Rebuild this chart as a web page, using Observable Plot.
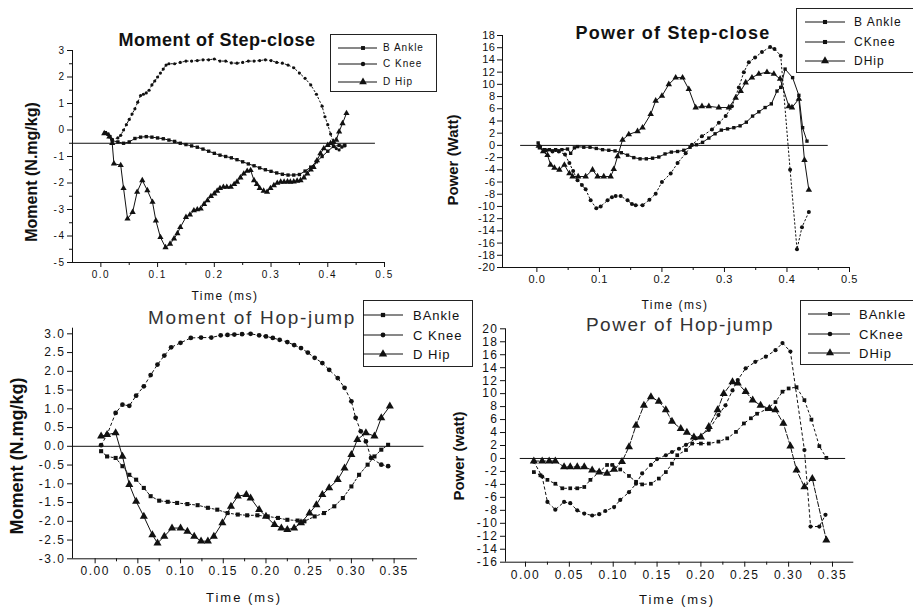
<!DOCTYPE html>
<html><head><meta charset="utf-8">
<script src="https://cdn.jsdelivr.net/npm/d3@7"></script>
<script src="https://cdn.jsdelivr.net/npm/@observablehq/plot@0.6"></script>
<style>
body{margin:0;background:#fff;}
#wrap{position:relative;width:913px;height:607px;overflow:hidden;font-family:"Liberation Sans",Arial,sans-serif;color:#111;background:#fff;}
.t{position:absolute;white-space:nowrap;transform:translate(-50%,-50%);line-height:1;}
.leg{position:absolute;border:1px solid #222;background:#fff;box-sizing:border-box;}
.leg span{position:absolute;white-space:nowrap;transform:translateY(-50%);line-height:1;}
svg.panel{position:absolute;overflow:visible;}
</style></head><body><div id="wrap"></div>
<script>
// ---------------- DATA ----------------
const seriesNames = ["B Ankle", "C Knee", "D Hip"];

// Moment of Step-close  [time, moment]
const stepMomentAnkle = [[0.008,-0.1],[0.012,-0.15],[0.016,-0.25],[0.02,-0.4],[0.03,-0.45],[0.04,-0.5],[0.05,-0.45],[0.06,-0.32],[0.07,-0.27],[0.08,-0.25],[0.09,-0.27],[0.10,-0.3],[0.11,-0.33],[0.12,-0.38],[0.13,-0.43],[0.14,-0.5],[0.15,-0.55],[0.16,-0.6],[0.17,-0.65],[0.18,-0.72],[0.19,-0.8],[0.20,-0.88],[0.21,-0.95],[0.22,-1.0],[0.23,-1.05],[0.24,-1.12],[0.25,-1.2],[0.26,-1.28],[0.27,-1.35],[0.28,-1.43],[0.29,-1.5],[0.30,-1.56],[0.31,-1.62],[0.32,-1.67],[0.33,-1.7],[0.34,-1.7],[0.35,-1.68],[0.36,-1.55],[0.37,-1.4],[0.38,-1.2],[0.39,-1.0],[0.40,-0.8],[0.41,-0.62],[0.42,-0.58],[0.43,-0.57]];
const stepMomentKnee = [[0.02,-0.35],[0.03,-0.3],[0.035,-0.2],[0.04,0.0],[0.045,0.2],[0.05,0.4],[0.055,0.6],[0.06,0.8],[0.065,1.05],[0.07,1.3],[0.075,1.35],[0.08,1.4],[0.085,1.5],[0.09,1.7],[0.095,1.85],[0.10,2.0],[0.105,2.15],[0.11,2.3],[0.115,2.45],[0.12,2.5],[0.13,2.5],[0.14,2.55],[0.15,2.6],[0.16,2.6],[0.17,2.62],[0.18,2.65],[0.19,2.65],[0.20,2.68],[0.21,2.6],[0.22,2.6],[0.23,2.53],[0.24,2.52],[0.25,2.55],[0.26,2.6],[0.27,2.6],[0.28,2.62],[0.29,2.65],[0.30,2.62],[0.31,2.55],[0.32,2.52],[0.33,2.45],[0.34,2.35],[0.35,2.15],[0.36,1.95],[0.37,1.7],[0.38,1.35],[0.39,0.9],[0.395,0.5],[0.40,0.2],[0.405,-0.15],[0.41,-0.5],[0.415,-0.7],[0.42,-0.75],[0.425,-0.65],[0.43,-0.6]];
const stepMomentHip = [[0.006,-0.13],[0.015,-0.25],[0.02,-0.5],[0.023,-1.27],[0.035,-1.33],[0.04,-2.2],[0.047,-3.35],[0.056,-3.1],[0.064,-2.34],[0.073,-1.9],[0.082,-2.28],[0.091,-2.72],[0.097,-3.42],[0.105,-4.05],[0.114,-4.43],[0.122,-4.3],[0.129,-4.1],[0.135,-3.9],[0.14,-3.67],[0.15,-3.29],[0.157,-3.2],[0.164,-3.04],[0.17,-3.0],[0.176,-2.97],[0.182,-2.8],[0.188,-2.66],[0.194,-2.5],[0.2,-2.4],[0.205,-2.3],[0.21,-2.2],[0.216,-2.15],[0.222,-2.15],[0.229,-2.15],[0.235,-2.05],[0.24,-1.96],[0.246,-1.8],[0.252,-1.65],[0.258,-1.55],[0.264,-1.52],[0.27,-1.9],[0.275,-2.05],[0.28,-2.2],[0.287,-2.3],[0.293,-2.34],[0.299,-2.2],[0.305,-2.09],[0.311,-2.0],[0.317,-1.96],[0.323,-1.96],[0.329,-1.95],[0.334,-1.96],[0.34,-1.95],[0.346,-1.92],[0.352,-1.9],[0.358,-1.8],[0.364,-1.65],[0.37,-1.5],[0.375,-1.4],[0.381,-1.15],[0.387,-0.89],[0.393,-0.7],[0.4,-0.57],[0.405,-0.5],[0.41,-0.45],[0.415,-0.38],[0.42,-0.06],[0.426,0.25],[0.433,0.63]];

// Power of Step-close  [time, power]
const stepPowerAnkle = [[0.002,0.4],[0.004,-0.4],[0.012,-0.7],[0.02,-0.7],[0.03,-0.7],[0.04,-0.7],[0.049,-0.6],[0.054,-1.3],[0.06,-0.4],[0.065,-0.2],[0.075,-0.3],[0.085,-0.3],[0.095,-0.5],[0.105,-0.7],[0.115,-0.8],[0.125,-0.9],[0.135,-1.2],[0.145,-1.6],[0.155,-2.0],[0.165,-2.2],[0.175,-2.2],[0.185,-2.1],[0.195,-1.9],[0.205,-1.4],[0.215,-1.1],[0.225,-1.0],[0.235,-0.8],[0.245,-0.3],[0.255,0.1],[0.265,0.5],[0.275,1.2],[0.285,1.9],[0.295,2.5],[0.305,2.7],[0.315,2.9],[0.325,3.2],[0.335,3.8],[0.345,4.8],[0.355,5.5],[0.365,6.2],[0.375,6.8],[0.384,8.9],[0.39,9.5],[0.397,12.5],[0.409,11.1],[0.419,8.2],[0.425,2.9],[0.432,0.7]];
const stepPowerKnee = [[0.005,-0.2],[0.015,-0.8],[0.025,-1.0],[0.035,-1.0],[0.045,-1.5],[0.052,-2.9],[0.058,-4.2],[0.065,-5.7],[0.072,-6.5],[0.078,-7.2],[0.086,-9.0],[0.095,-10.3],[0.102,-10.0],[0.113,-9.0],[0.12,-8.5],[0.126,-8.3],[0.134,-8.3],[0.145,-9.0],[0.152,-9.6],[0.158,-9.8],[0.169,-9.8],[0.18,-8.9],[0.19,-7.9],[0.2,-6.0],[0.214,-4.6],[0.225,-2.9],[0.238,-1.3],[0.248,0.1],[0.264,1.5],[0.28,2.6],[0.291,3.7],[0.302,4.8],[0.312,6.4],[0.323,9.5],[0.331,12.0],[0.339,13.6],[0.349,14.4],[0.36,15.3],[0.373,16.1],[0.38,15.8],[0.39,14.7],[0.405,-4.0],[0.416,-17.0],[0.424,-13.4],[0.435,-10.9]];
const stepPowerHip = [[0.003,-0.1],[0.01,-1.0],[0.017,-1.6],[0.022,-3.2],[0.028,-3.7],[0.036,-4.0],[0.044,-3.2],[0.052,-4.6],[0.057,-5.1],[0.066,-5.1],[0.078,-5.1],[0.089,-4.0],[0.097,-5.1],[0.107,-5.1],[0.118,-5.1],[0.123,-3.9],[0.129,-1.8],[0.137,0.9],[0.147,1.8],[0.161,2.3],[0.169,2.9],[0.182,5.1],[0.19,7.3],[0.2,8.1],[0.211,10.0],[0.222,11.1],[0.233,11.1],[0.243,9.2],[0.254,6.2],[0.264,6.4],[0.275,6.4],[0.291,6.2],[0.307,6.2],[0.318,7.8],[0.326,8.9],[0.334,10.3],[0.344,11.1],[0.355,11.7],[0.368,12.0],[0.379,11.7],[0.389,10.9],[0.403,6.4],[0.408,6.2],[0.419,7.6],[0.428,-2.4],[0.435,-7.3]];

// Moment of Hop-jump  [time, moment]
const hopMomentAnkle = [[0.007,-0.13],[0.014,-0.27],[0.024,-0.31],[0.032,-0.53],[0.04,-0.76],[0.048,-0.89],[0.057,-1.11],[0.065,-1.33],[0.075,-1.45],[0.085,-1.48],[0.096,-1.51],[0.108,-1.54],[0.12,-1.57],[0.132,-1.64],[0.143,-1.69],[0.155,-1.78],[0.167,-1.82],[0.178,-1.84],[0.19,-1.84],[0.202,-1.87],[0.214,-1.91],[0.225,-1.96],[0.237,-1.98],[0.245,-2.0],[0.257,-1.87],[0.268,-1.78],[0.28,-1.6],[0.29,-1.38],[0.3,-1.07],[0.309,-0.76],[0.319,-0.49],[0.327,-0.27],[0.335,-0.09],[0.343,0.04]];
const hopMomentKnee = [[0.007,0.03],[0.014,0.31],[0.024,0.89],[0.032,1.11],[0.04,1.08],[0.048,1.35],[0.057,1.6],[0.065,1.9],[0.073,2.18],[0.081,2.42],[0.089,2.64],[0.1,2.76],[0.112,2.89],[0.124,2.9],[0.136,2.9],[0.147,2.96],[0.155,2.97],[0.163,2.98],[0.172,2.99],[0.182,3.0],[0.192,2.96],[0.2,2.93],[0.208,2.89],[0.216,2.84],[0.225,2.78],[0.233,2.7],[0.241,2.62],[0.249,2.5],[0.257,2.36],[0.266,2.22],[0.274,2.04],[0.284,1.82],[0.292,1.56],[0.3,1.2],[0.305,0.76],[0.311,0.4],[0.317,0.13],[0.323,-0.31],[0.335,-0.49],[0.343,-0.53]];
const hopMomentHip = [[0.007,0.27],[0.014,0.31],[0.024,0.36],[0.032,-0.27],[0.04,-1.02],[0.048,-1.47],[0.057,-1.87],[0.067,-2.36],[0.073,-2.58],[0.081,-2.4],[0.09,-2.18],[0.1,-2.18],[0.108,-2.27],[0.116,-2.4],[0.124,-2.53],[0.132,-2.53],[0.139,-2.4],[0.149,-2.04],[0.159,-1.6],[0.167,-1.33],[0.177,-1.29],[0.182,-1.38],[0.192,-1.69],[0.2,-1.87],[0.21,-2.09],[0.218,-2.18],[0.225,-2.22],[0.233,-2.18],[0.241,-2.04],[0.251,-1.78],[0.259,-1.56],[0.266,-1.29],[0.274,-1.11],[0.284,-0.89],[0.292,-0.58],[0.3,-0.22],[0.307,0.18],[0.317,0.36],[0.327,0.27],[0.335,0.76],[0.345,1.07]];

// Power of Hop-jump  [time, power]
const hopPowerAnkle = [[0.0095,-2.1],[0.017,-2.6],[0.025,-3.3],[0.034,-3.9],[0.042,-4.6],[0.051,-4.6],[0.059,-4.6],[0.067,-4.4],[0.074,-3.3],[0.084,-2.1],[0.093,-1.0],[0.099,-1.0],[0.108,-1.7],[0.118,-2.7],[0.126,-3.6],[0.133,-4.0],[0.143,-3.9],[0.152,-3.1],[0.16,-2.1],[0.167,-0.8],[0.173,0.5],[0.183,1.3],[0.19,2.3],[0.2,2.3],[0.209,2.3],[0.22,2.6],[0.23,3.1],[0.24,4.1],[0.249,5.4],[0.257,6.2],[0.264,6.9],[0.275,7.6],[0.285,8.7],[0.293,10.3],[0.3,10.8],[0.309,11.0],[0.318,9.0],[0.326,6.0],[0.335,1.9],[0.343,0.1]];
const hopPowerKnee = [[0.0095,-0.5],[0.019,-2.8],[0.025,-6.7],[0.034,-7.9],[0.044,-6.7],[0.051,-6.9],[0.059,-8.0],[0.067,-8.5],[0.076,-8.8],[0.084,-8.6],[0.091,-8.1],[0.101,-7.5],[0.108,-6.4],[0.118,-5.2],[0.126,-3.9],[0.133,-2.3],[0.143,-1.0],[0.15,-0.1],[0.16,0.5],[0.167,1.0],[0.175,1.5],[0.183,2.1],[0.194,3.1],[0.209,4.4],[0.22,6.7],[0.228,8.2],[0.236,10.5],[0.242,12.1],[0.251,13.9],[0.262,14.9],[0.274,15.7],[0.285,16.7],[0.293,17.8],[0.302,16.5],[0.318,1.3],[0.325,-10.5],[0.335,-10.5],[0.342,-8.7]];
const hopPowerHip = [[0.0095,-0.4],[0.019,-0.4],[0.027,-0.4],[0.034,-0.4],[0.044,-1.3],[0.051,-1.3],[0.059,-1.3],[0.067,-1.3],[0.076,-1.8],[0.084,-2.1],[0.093,-2.3],[0.101,-1.7],[0.11,-0.5],[0.118,1.8],[0.126,5.1],[0.135,8.2],[0.143,9.5],[0.152,8.8],[0.16,7.5],[0.167,5.7],[0.177,4.6],[0.184,4.0],[0.192,3.3],[0.2,3.3],[0.209,4.9],[0.219,7.5],[0.226,10.0],[0.236,11.8],[0.242,11.6],[0.251,10.3],[0.259,9.0],[0.268,8.2],[0.278,7.7],[0.285,7.5],[0.294,5.4],[0.302,1.9],[0.309,-1.8],[0.318,-4.4],[0.327,-3.1],[0.343,-12.6]];

// axes: domains, ticks, reference lines
const stepMomentX = [-0.05, 0.5], stepMomentY = [-5, 3];
const stepMomentTicksX = [0, 0.1, 0.2, 0.3, 0.4, 0.5];
const stepMomentTicksY = [-5, -4, -3, -2, -1, 0, 1, 2, 3];
const stepMomentRef = [{y: -0.5, x1: -0.05, x2: 0.484}];

const stepPowerX = [-0.055, 0.5], stepPowerY = [-20, 18];
const stepPowerTicksX = [0, 0.1, 0.2, 0.3, 0.4, 0.5];
const stepPowerTicksY = [-20,-18,-16,-14,-12,-10,-8,-6,-4,-2,0,2,4,6,8,10,12,14,16,18];
const stepPowerRef = [{y: 0, x1: -0.026, x2: 0.466}];

const hopMomentX = [-0.0265, 0.3774], hopMomentY = [-3, 3.15];
const hopMomentTicksX = [0, 0.05, 0.1, 0.15, 0.2, 0.25, 0.3, 0.35];
const hopMomentTicksY = [-3, -2.5, -2, -1.5, -1, -0.5, 0, 0.5, 1, 1.5, 2, 2.5, 3];
const hopMomentRef = [{y: 0, x1: -0.0265, x2: 0.385}];

const hopPowerX = [-0.0228, 0.3743], hopPowerY = [-16, 20];
const hopPowerTicksX = [0, 0.05, 0.1, 0.15, 0.2, 0.25, 0.3, 0.35];
const hopPowerTicksY = [-16,-14,-12,-10,-8,-6,-4,-2,0,2,4,6,8,10,12,14,16,18,20];
const hopPowerRef = [{y: 0, x1: -0.006, x2: 0.365}];

// ---------------- DRAW ----------------
const wrap = document.getElementById("wrap");
const rows = a => a.map(([t, v]) => ({t, v}));
const mids = (ticks) => ticks.slice(0, -1).map((d, i) => (d + ticks[i + 1]) / 2);

function panel(cfg) {
  const b = cfg.box;
  const marks = [
    Plot.ruleX([cfg.xDomain[0]], {stroke: "#111", strokeWidth: 1}),
    Plot.ruleY([cfg.yDomain[0]], {stroke: "#111", strokeWidth: 1}),
    Plot.ruleY(cfg.ref, {y: "y", x1: "x1", x2: "x2", stroke: "#111", strokeWidth: 1}),
    Plot.axisX(cfg.xTicks, {tickSize: 5, tickPadding: 3, tickFormat: cfg.xFmt, label: null, stroke: "#111"}),
    Plot.axisX(mids(cfg.xTicks), {tickSize: 3, tickFormat: () => "", label: null, stroke: "#111"}),
    Plot.axisY(cfg.yTicks, {tickSize: 5, tickPadding: 2, tickFormat: cfg.yFmt, label: null, stroke: "#111"})
  ];
  if (cfg.yMinor) marks.push(Plot.axisY(mids(cfg.yTicks), {tickSize: 3, tickFormat: () => "", label: null, stroke: "#111"}));
  for (const s of cfg.series) {
    const d = rows(s.data);
    marks.push(Plot.line(d, {x: "t", y: "v", stroke: "#111", strokeWidth: 1, strokeDasharray: s.dash || null}));
    marks.push(Plot.dot(d, {x: "t", y: "v", symbol: s.symbol, r: s.r, fill: "#111", stroke: "none"}));
  }
  const svg = Plot.plot({
    width: b.w, height: b.h,
    marginLeft: b.x0, marginRight: b.w - b.x1, marginTop: b.y0, marginBottom: b.h - b.y1,
    x: {domain: cfg.xDomain, axis: null},
    y: {domain: cfg.yDomain, axis: null},
    style: {fontFamily: '"Liberation Sans", Arial, sans-serif', fontSize: cfg.fontSize + "px",
            letterSpacing: cfg.ls + "px", background: "transparent", overflow: "visible", color: "#111"},
    marks
  });
  svg.classList.add("panel");
  svg.style.left = b.left + "px";
  svg.style.top = b.top + "px";
  svg.style.maxWidth = "none";
  wrap.appendChild(svg);
}

const f1 = d => d.toFixed(1), f2 = d => d.toFixed(2), f0 = d => String(d);

panel({box: {left: 0, top: 0, w: 460, h: 300, x0: 72, x1: 384, y0: 50, y1: 262},
  xDomain: stepMomentX, yDomain: stepMomentY, xTicks: stepMomentTicksX, yTicks: stepMomentTicksY,
  xFmt: f1, yFmt: f0, ref: stepMomentRef, fontSize: 10, ls: 1.5, yMinor: true,
  series: [
    {data: stepMomentAnkle, symbol: "square", r: 1.9},
    {data: stepMomentKnee, symbol: "circle", r: 1.6, dash: "1.5,2.5"},
    {data: stepMomentHip, symbol: "triangle", r: 2.3}
  ]});

panel({box: {left: 455, top: 0, w: 458, h: 300, x0: 47, x1: 394, y0: 35, y1: 267},
  xDomain: stepPowerX, yDomain: stepPowerY, xTicks: stepPowerTicksX, yTicks: stepPowerTicksY,
  xFmt: f1, yFmt: f0, ref: stepPowerRef, fontSize: 11, ls: 0.5,
  series: [
    {data: stepPowerAnkle, symbol: "square", r: 1.9},
    {data: stepPowerKnee, symbol: "circle", r: 2.0, dash: "1.5,2.5"},
    {data: stepPowerHip, symbol: "triangle", r: 2.4}
  ]});

panel({box: {left: 0, top: 300, w: 460, h: 307, x0: 72, x1: 417, y0: 27.7, y1: 258.3},
  xDomain: hopMomentX, yDomain: hopMomentY, xTicks: hopMomentTicksX, yTicks: hopMomentTicksY,
  xFmt: f2, yFmt: f1, ref: hopMomentRef, fontSize: 12, ls: 1.5,
  series: [
    {data: hopMomentAnkle, symbol: "square", r: 2.3, dash: "2,2"},
    {data: hopMomentKnee, symbol: "circle", r: 2.4, dash: "2.5,3"},
    {data: hopMomentHip, symbol: "triangle", r: 3.0}
  ]});

panel({box: {left: 455, top: 300, w: 458, h: 307, x0: 50, x1: 398.3, y0: 28.3, y1: 261.7},
  xDomain: hopPowerX, yDomain: hopPowerY, xTicks: hopPowerTicksX, yTicks: hopPowerTicksY,
  xFmt: f2, yFmt: f0, ref: hopPowerRef, fontSize: 12, ls: 1.5,
  series: [
    {data: hopPowerAnkle, symbol: "square", r: 2.1, dash: "2,3"},
    {data: hopPowerKnee, symbol: "circle", r: 2.1, dash: "2.5,3"},
    {data: hopPowerHip, symbol: "triangle", r: 3.0, dash: "5,2"}
  ]});

// ---------------- TEXT ----------------
function text(str, cx, cy, css, rotate) {
  const el = document.createElement("div");
  el.className = "t";
  el.textContent = str;
  el.style.left = cx + "px";
  el.style.top = cy + "px";
  Object.assign(el.style, css);
  if (rotate) el.style.transform = "translate(-50%,-50%) rotate(-90deg)";
  wrap.appendChild(el);
}
text("Moment of Step-close", 217, 40, {fontWeight: "bold", fontSize: "18px", letterSpacing: "0.5px"});
text("Power of Step-close", 673, 33, {fontWeight: "bold", fontSize: "18px", letterSpacing: "1.2px"});
text("Moment of Hop-jump", 252, 317, {fontSize: "19px", letterSpacing: "1.7px", color: "#333"});
text("Power of Hop-jump", 680, 324, {fontSize: "19px", letterSpacing: "1.5px", color: "#333"});

text("Moment (N.mg/kg)", 32, 172, {fontWeight: "bold", fontSize: "16px"}, true);
text("Power (Watt)", 452, 160, {fontWeight: "bold", fontSize: "15px"}, true);
text("Moment (N.mg/kg)", 17, 456, {fontWeight: "bold", fontSize: "18px"}, true);
text("Power (watt)", 458, 456, {fontWeight: "bold", fontSize: "15px"}, true);

text("Time (ms)", 225, 296, {fontSize: "12px", letterSpacing: "1.5px"});
text("Time (ms)", 675, 305, {fontSize: "12px", letterSpacing: "1.5px"});
text("Time (ms)", 244, 597, {fontSize: "13px", letterSpacing: "2px"});
text("Time (ms)", 677, 599, {fontSize: "13px", letterSpacing: "2px"});

// ---------------- LEGENDS ----------------
const symbolPath = {
  square: d3.symbolSquare, circle: d3.symbolCircle, triangle: d3.symbolTriangle
};
function legend(box, rowsY, line, markerX, textX, symbols, labels, fontSize, r) {
  const el = document.createElement("div");
  el.className = "leg";
  Object.assign(el.style, {left: box[0] + "px", top: box[1] + "px", width: box[2] + "px", height: box[3] + "px"});
  const svg = d3.create("svg").attr("width", box[2]).attr("height", box[3])
    .style("position", "absolute").style("left", "-1px").style("top", "-1px");
  rowsY.forEach((y, i) => {
    svg.append("line").attr("x1", line[0]).attr("x2", line[1]).attr("y1", y).attr("y2", y)
      .attr("stroke", "#111").attr("stroke-width", 1);
    const rr = symbols[i] === "triangle" ? r * 1.3 : r;
    svg.append("path").attr("d", d3.symbol(symbolPath[symbols[i]], Math.PI * rr * rr)())
      .attr("transform", `translate(${markerX},${y})`).attr("fill", "#111");
    const s = document.createElement("span");
    s.textContent = labels[i];
    Object.assign(s.style, {left: textX + "px", top: (y - 1) + "px", fontSize: fontSize + "px", letterSpacing: "1px"});
    el.appendChild(s);
  });
  el.appendChild(svg.node());
  wrap.appendChild(el);
}
legend([330, 34, 107, 58], [14, 30, 48], [8, 47], 33, 52, ["square", "circle", "triangle"], seriesNames, 10, 2.2);
legend([796, 8, 122, 65], [14, 34, 53], [9, 49], 29, 57, ["square", "square", "triangle"], ["B Ankle", "CKnee", "DHip"], 12, 2.3);
legend([363, 300, 110, 67], [15, 35, 54], [0, 40], 20, 49, ["square", "circle", "triangle"], ["BAnkle", "C Knee", "D Hip"], 13, 2.4);
legend([800, 300, 118, 65], [14, 34, 53], [8, 50], 30, 58, ["square", "circle", "triangle"], ["BAnkle", "CKnee", "DHip"], 13, 2.3);
</script></body></html>
